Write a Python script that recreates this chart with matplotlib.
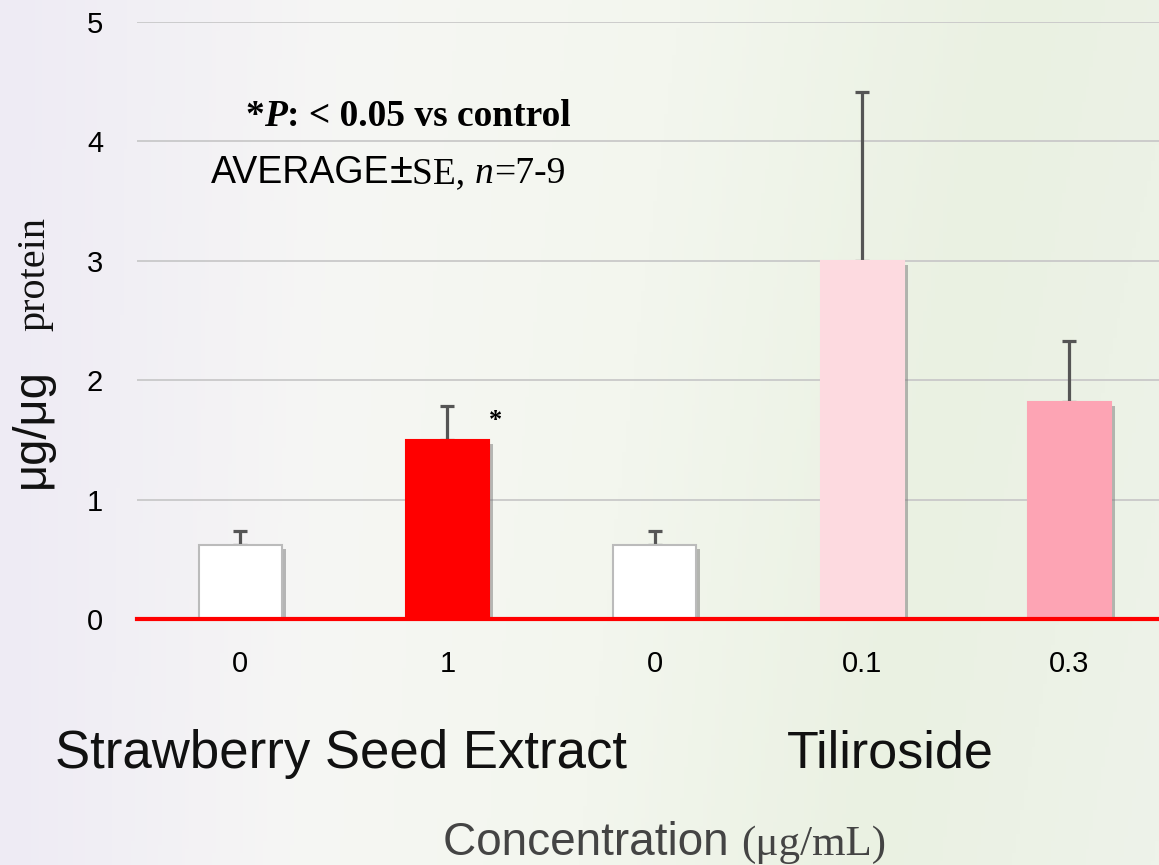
import numpy as np
import matplotlib
matplotlib.use("Agg")
import matplotlib.pyplot as plt
import matplotlib.patheffects as pe
from matplotlib.colors import LinearSegmentedColormap

# ---- data ----
concentrations = ["0", "1", "0", "0.1", "0.3"]
groups = ["Strawberry Seed Extract", "Tiliroside"]
values = [0.62, 1.50, 0.62, 3.00, 1.82]
errors_upper = [0.12, 0.28, 0.12, 1.41, 0.51]
bar_colors = ["#FFFFFF", "#FF0000", "#FFFFFF", "#FDDAE0", "#FDA4B4"]
bar_edges = ["#BBBBBB", "#FF0000", "#BBBBBB", "#FDDAE0", "#FDA4B4"]
significant = [False, True, False, False, False]
yticks = [0, 1, 2, 3, 4, 5]

W, H = 1159, 865
fig = plt.figure(figsize=(W / 100, H / 100), dpi=100)

# ---- background gradient ----
bg = fig.add_axes([0, 0, 1, 1], zorder=-10)
bg.axis("off")
xx, yy = np.meshgrid(np.linspace(0, 1, 300), np.linspace(0, 1, 220))
cmap = LinearSegmentedColormap.from_list(
    "bgc", ["#EEEBF4", "#F6F6F4", "#F3F6EE", "#EAF1E2", "#EEF3EA"])
val = xx * 0.85 + 0.15 * (1 - yy) * xx
bg.imshow(val, cmap=cmap, aspect="auto", extent=[0, 1, 0, 1], origin="lower")
bg.set_xlim(0, 1); bg.set_ylim(0, 1)

# ---- main axes ----
left, right = 136.5, 1173
y0px, y5px = 619, 22
ax = fig.add_axes([left / W, (H - y0px) / H, (right - left) / W, (y0px - y5px) / H])
ax.set_facecolor("none")
x = np.arange(len(values))
shadow = [pe.SimplePatchShadow(offset=(3, -3), shadow_rgbFace="#777777", alpha=0.5), pe.Normal()]
bars = ax.bar(x, values, width=0.4, color=bar_colors, edgecolor=bar_edges,
              linewidth=1.5, zorder=3)
for b in bars:
    b.set_path_effects(shadow)
ax.errorbar(x, values, yerr=[np.zeros(len(values)), errors_upper], fmt="none",
            ecolor="#555555", elinewidth=2.3, capsize=5, capthick=2.3, zorder=2)
for xi, v, e, s in zip(x, values, errors_upper, significant):
    if s:
        ax.text(xi + 0.23, v + e - 0.12, "*", ha="center", va="center",
                fontsize=19, fontweight="bold", family="Liberation Serif", zorder=5)

ax.axhline(0, color="#FF0000", lw=3, zorder=6, clip_on=False)
ax.set_xlim(-0.5, 4.5)
ax.set_ylim(0, 5)
ax.set_yticks(yticks)
ax.set_yticklabels([str(t) for t in yticks], family="Liberation Sans", fontsize=21)
ax.set_xticks(x)
ax.set_xticklabels(concentrations, family="Liberation Sans", fontsize=21)
ax.tick_params(axis="x", length=0, pad=22)
ax.tick_params(axis="y", length=0, pad=24)
ax.grid(axis="y", color="#C9C9C9", lw=1.3, zorder=0)
ax.set_axisbelow(True)
for sp in ax.spines.values():
    sp.set_visible(False)

# ---- helper: concatenated text pieces ----
renderer = fig.canvas.get_renderer()

def concat(xpx, ypx, pieces):
    """pieces: list of (text, kwargs). xpx,ypx: pixel coords from top-left, baseline."""
    cur = xpx
    for s, kw in pieces:
        t = fig.text(cur / W, 1 - ypx / H, s, ha="left", va="baseline", **kw)
        bb = t.get_window_extent(renderer=renderer)
        cur += bb.width
    return cur

serif = "Liberation Serif"
sans = "Liberation Sans"

# annotation lines
concat(245, 126, [
    ("*", dict(family=serif, fontsize=27, fontweight="bold")),
    ("P", dict(family=serif, fontsize=27, fontweight="bold", style="italic")),
    (": < 0.05 vs control", dict(family=serif, fontsize=27, fontweight="bold")),
])
concat(211, 183, [
    ("AVERAGE", dict(family=sans, fontsize=27)),
    ("\u00b1", dict(family=sans, fontsize=30)),
    ("SE, ", dict(family=serif, fontsize=27)),
    ("n", dict(family=serif, fontsize=27, style="italic")),
    ("=7-9", dict(family=serif, fontsize=27)),
])

# group labels
fig.text(341 / W, 1 - 768 / H, groups[0], ha="center", va="baseline",
         family=sans, fontsize=38, color="#111111")
fig.text(890 / W, 1 - 768 / H, groups[1], ha="center", va="baseline",
         family=sans, fontsize=37.5, color="#111111")

# x axis title
concat(443, 855, [
    ("Concentration ", dict(family=sans, fontsize=33, color="#444444")),
    ("(\u03bcg/mL)", dict(family=serif, fontsize=31, color="#444444")),
])

# y axis title (rotated)
fig.text(44 / W, 1 - 488 / H, "\u03bcg/\u03bcg", rotation=90, rotation_mode="anchor",
         ha="left", va="baseline", family=sans, fontsize=34, color="#111111")
fig.text(44 / W, 1 - 331 / H, "protein", rotation=90, rotation_mode="anchor",
         ha="left", va="baseline", family=serif, fontsize=29, color="#111111")

fig.savefig("out.png", dpi=100)
